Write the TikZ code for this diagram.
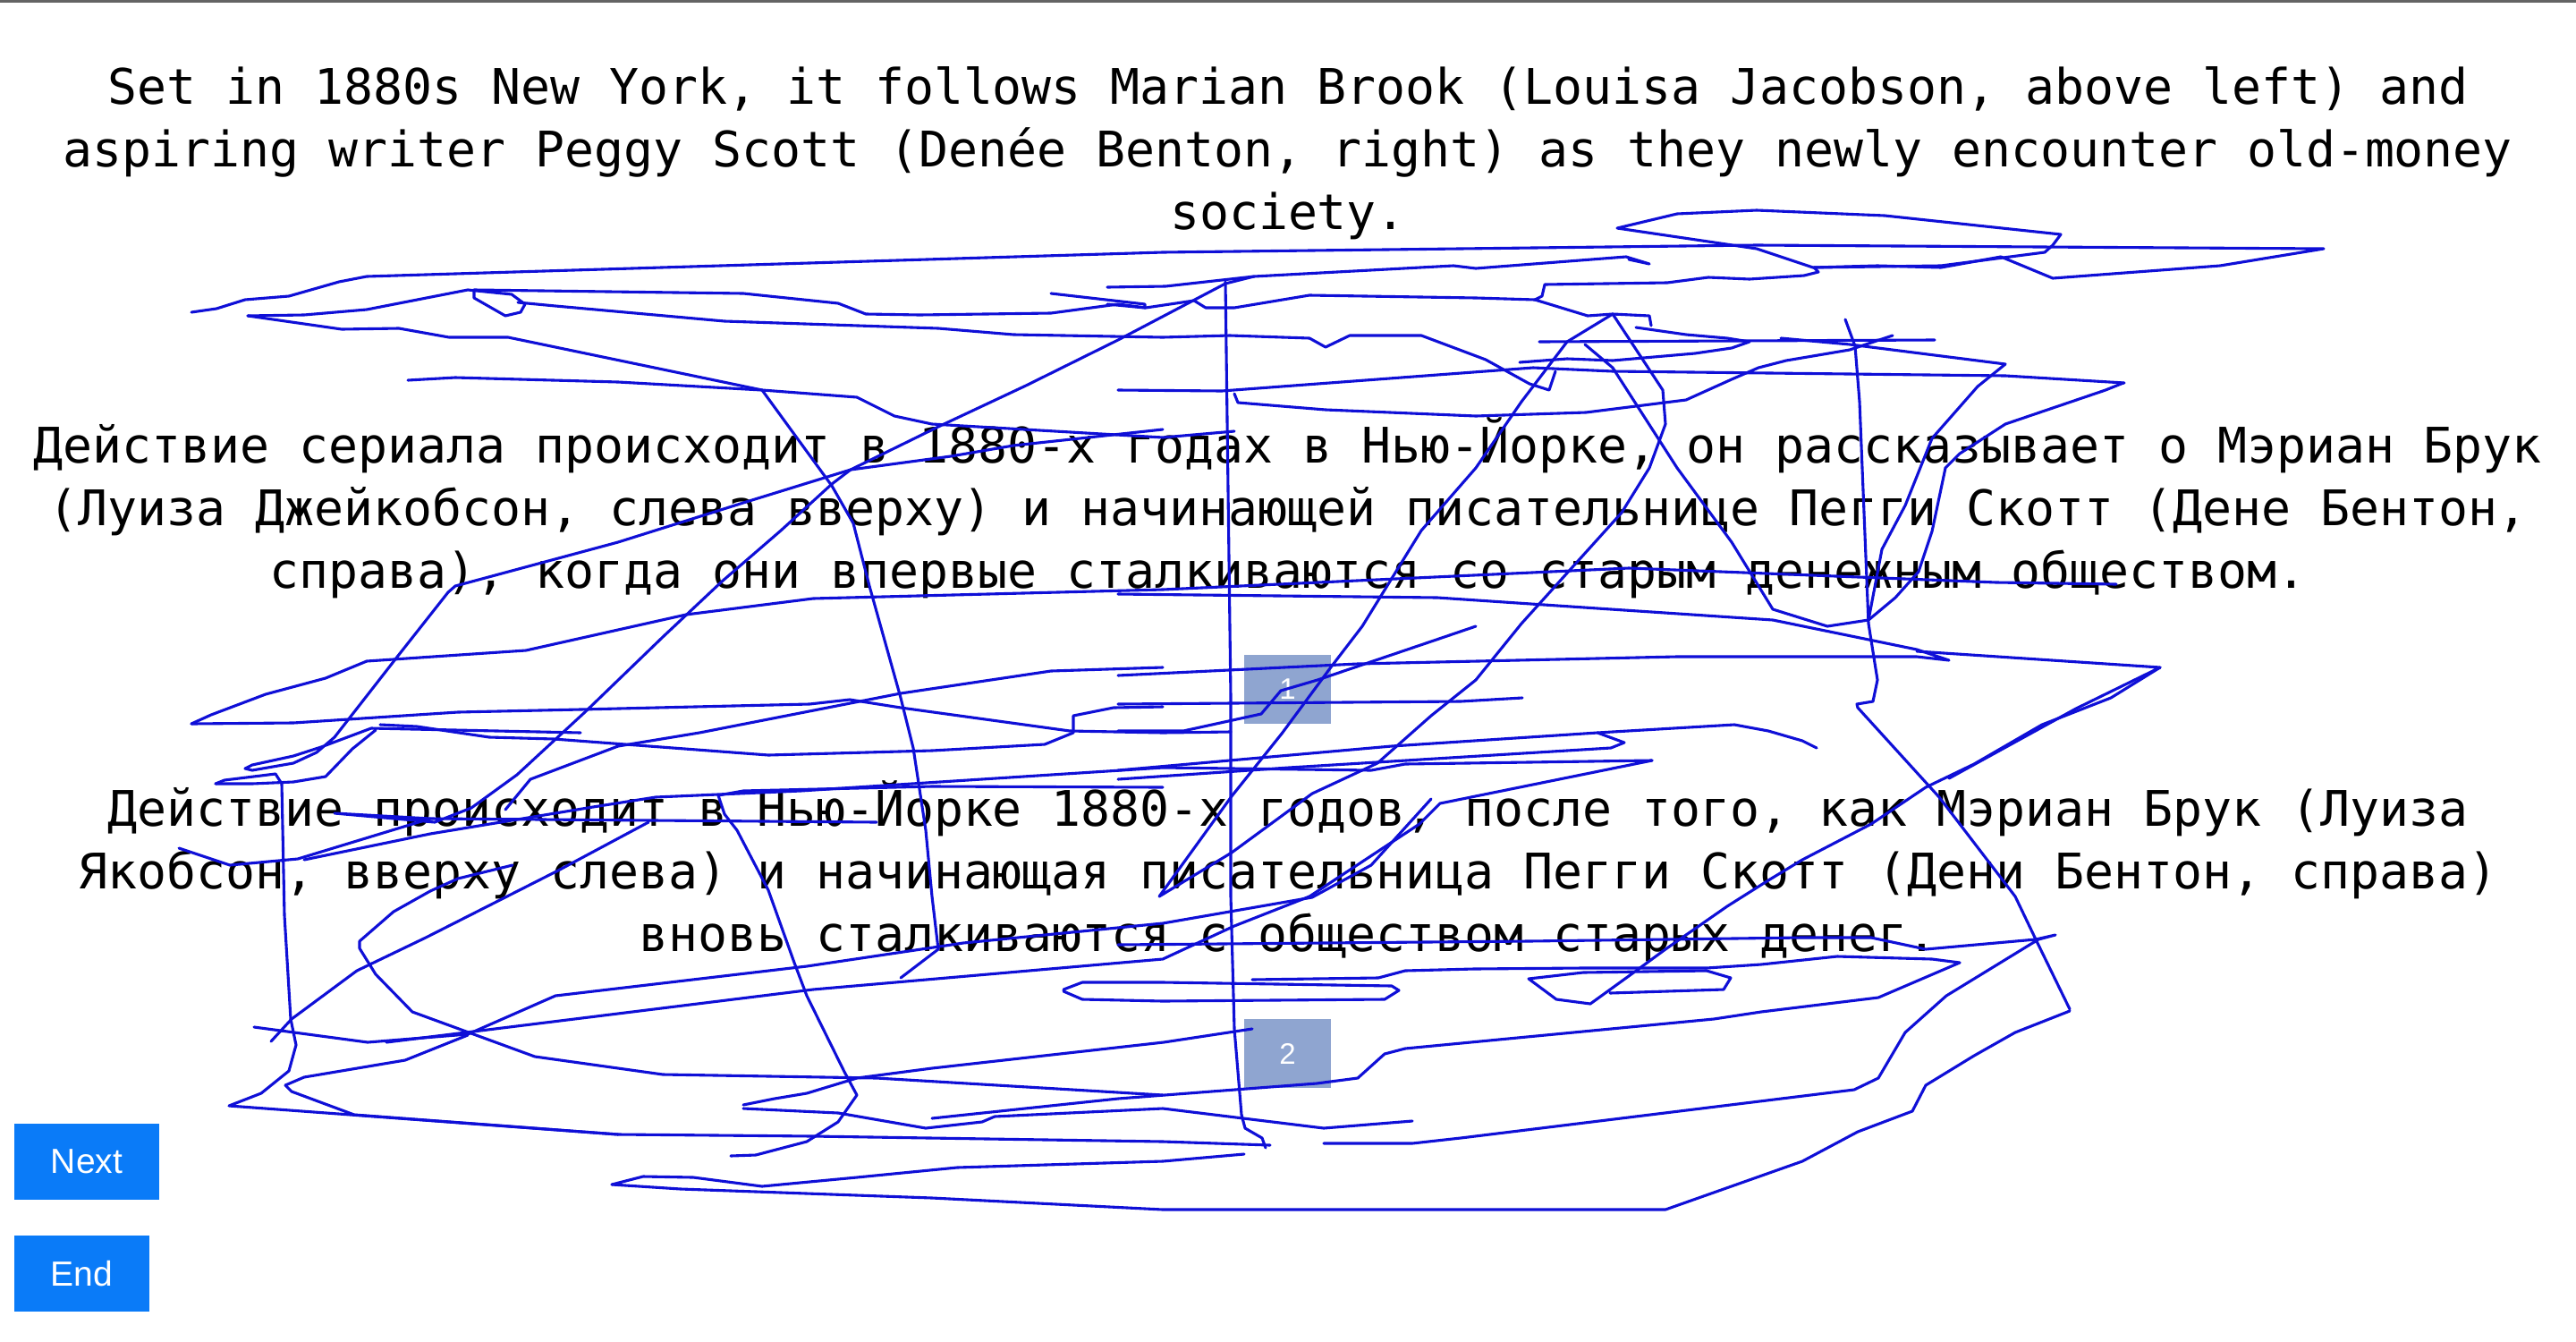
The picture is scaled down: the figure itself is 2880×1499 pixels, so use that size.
\documentclass[tikz,border=0pt]{standalone}
\usepackage{fontspec}
\newfontfamily\monof{DejaVu Sans Mono}
\newfontfamily\arialf{Liberation Sans}
\definecolor{scribblue}{RGB}{15,15,215}
\definecolor{pagebox}{RGB}{143,165,208}
\definecolor{btnblue}{RGB}{10,123,248}
\definecolor{topgray}{RGB}{100,100,100}
\begin{document}
\begin{tikzpicture}[x=1pt,y=-1pt,
  txt/.style={anchor=base,inner sep=0pt,font=\monof\fontsize{54.8}{70}\selectfont},
  pagebtn/.style={fill=pagebox,draw=none,minimum width=97pt,minimum height=77pt,inner sep=0pt,text=white,font=\arialf\fontsize{33}{36}\selectfont},
  navbtn/.style={fill=btnblue,draw=none,inner sep=0pt,text=white,font=\arialf\fontsize{39}{44}\selectfont},
  scrib/.style={draw=scribblue,line width=3.1pt,line join=round,line cap=round}]
\useasboundingbox (0,0) rectangle (2880,1499);
\fill[white] (0,0) rectangle (2880,1499);
\fill[topgray] (0,0) rectangle (2880,3);
% English
\node[txt] (e1) at (1440,116) {Set in 1880s New York, it follows Marian Brook (Louisa Jacobson, above left) and};
\node[txt] (e2) at (1440,186) {aspiring writer Peggy Scott (Denée Benton, right) as they newly encounter old-money};
\node[txt] (e3) at (1440,256) {society.};
% Russian 1
\node[txt] (r1) at (1440,517) {Действие сериала происходит в 1880-х годах в Нью-Йорке, он рассказывает о Мэриан Брук};
\node[txt] (r2) at (1440,587) {(Луиза Джейкобсон, слева вверху) и начинающей писательнице Пегги Скотт (Дене Бентон,};
\node[txt] (r3) at (1440,657) {справа), когда они впервые сталкиваются со старым денежным обществом.};
% Russian 2
\node[txt] (s1) at (1440,923) {Действие происходит в Нью-Йорке 1880-х годов, после того, как Мэриан Брук (Луиза};
\node[txt] (s2) at (1440,993) {Якобсон, вверху слева) и начинающая писательница Пегги Скотт (Дени Бентон, справа)};
\node[txt] (s3) at (1440,1063) {вновь сталкиваются с обществом старых денег.};
% page boxes
\node[pagebtn] (p1) at (1439.5,770.5) {1};
\node[pagebtn] (p2) at (1439.5,1177.5) {2};
% buttons
\node[navbtn,minimum width=162pt,minimum height=85pt] (next) at (97,1298.5) {Next};
\node[navbtn,minimum width=151pt,minimum height=85pt] (end) at (91.5,1423.5) {End};
% scribble
\draw[scrib] plot coordinates {(214,349) (242,345) (274,335) (323,331) (379,315) (410,309) (1300,282) (1964,274) (2598,278) (2482,297) (2295,311) (2237,287) (2170,299) (2099,297) (2028,299) (2033,304) (2017,308) (1956,312) (1910,310) (1864,316) (1727,318) (1724,331) (1716,335) (1775,353) (1803,351)};
\draw[scrib] plot coordinates {(1808,255) (1875,239) (1964,235) (2107,241) (2304,262) (2295,274) (2286,282) (2170,297) (2027,299) (1964,278) (1808,255)};
\draw[scrib] plot coordinates {(277,353) (340,352) (410,346) (523,324) (572,329) (587,340) (582,349) (565,353) (530,333) (530,324) (831,328) (937,339) (968,351) (1028,352) (1175,350) (1250,340) (1281,344) (1335,336) (1348,344) (1380,344) (1464,330) (1650,333) (1716,335)};
\draw[scrib] plot coordinates {(1238,321) (1303,320) (1402,309) (1625,297) (1650,300) (1818,287) (1844,295) (1821,290)};
\draw[scrib] plot coordinates {(1175,328) (1210,332) (1280,340) (1280,344) (1238,340)};
\draw[scrib] plot coordinates {(579,338) (621,342) (810,359) (1049,367) (1133,374) (1300,377) (1375,375) (1464,378) (1482,388) (1509,375) (1589,375) (1661,402) (1710,429) (1732,436) (1739,415)};
\draw[scrib] plot coordinates {(277,353) (382,368) (446,367) (502,377) (568,377) (852,436) (930,543) (954,585) (972,655) (1007,780) (1021,836) (1035,928) (1042,1002) (1049,1061) (1007,1093)};
\draw[scrib] plot coordinates {(456,425) (509,422) (691,427) (852,436) (958,444) (1000,465) (1042,474) (1300,489) (1380,482)};
\draw[scrib] plot coordinates {(1402,309) (1370,317) (1250,380) (1147,431) (1049,477) (951,525) (930,541) (873,593) (807,650) (741,712) (655,795) (578,866) (527,903) (486,919) (374,909) (481,915) (731,917) (980,919)};
\draw[scrib] plot coordinates {(573,967) (512,982) (481,996) (440,1019) (402,1052) (402,1060) (420,1089) (461,1131) (598,1181) (741,1201) (980,1205) (1300,1224)};
\draw[scrib] plot coordinates {(1300,480) (1133,498) (1063,510) (951,525) (831,562) (691,606) (509,655) (501,662) (445,733) (374,824) (354,841) (328,853) (282,861) (274,859) (282,855) (328,845) (359,835) (415,814) (649,819)};
\draw[scrib] plot coordinates {(214,809) (236,799) (297,776) (364,758) (410,739) (588,727) (767,687) (909,669) (1300,659) (1821,635) (2232,651) (2366,653)};
\draw[scrib] plot coordinates {(214,809) (328,808) (512,796) (649,793) (905,787) (950,782) (1007,791) (1196,817) (1300,819) (1376,818)};
\draw[scrib] plot coordinates {(1300,746) (1175,750) (1007,775) (782,819) (691,834) (593,871) (565,905)};
\draw[scrib] plot coordinates {(1300,790) (1245,791) (1200,800) (1200,819) (1168,832) (1042,839) (859,844) (619,826) (547,824) (466,812) (425,810)};
\draw[scrib] plot coordinates {(241,876) (282,876) (328,874) (364,868) (394,837) (420,816)};
\draw[scrib] plot coordinates {(241,876) (251,872) (308,865) (315,876) (318,1023) (325,1139) (331,1168) (323,1197) (292,1222) (256,1236) (691,1268) (909,1270) (1300,1276) (1420,1280)};
\draw[scrib] plot coordinates {(200,948) (257,967) (333,960) (481,915)};
\draw[scrib] plot coordinates {(340,961) (481,932) (663,902) (733,891) (895,884) (1300,858) (1533,861) (1571,854) (1847,850)};
\draw[scrib] plot coordinates {(1300,880) (1042,879) (831,884) (803,889) (810,910) (824,928) (859,995) (888,1076) (902,1113) (944,1198) (958,1224) (937,1254) (902,1276) (845,1291) (817,1292)};
\draw[scrib] plot coordinates {(725,919) (624,973) (476,1048) (399,1085) (326,1139) (303,1164)};
\draw[scrib] plot coordinates {(284,1148) (411,1165) (523,1156) (621,1113) (902,1080) (1077,1054) (1300,1032) (1467,1003) (1533,967) (1600,893)};
\draw[scrib] plot coordinates {(432,1165) (909,1106) (1300,1072) (1380,1035) (1464,1002) (1587,921) (1610,898) (1847,850)};
\draw[scrib] plot coordinates {(319,1213) (340,1204) (453,1185) (523,1157)};
\draw[scrib] plot coordinates {(319,1213) (326,1220) (396,1246) (691,1268)};
\draw[scrib] plot coordinates {(684,1324) (719,1315) (775,1316) (852,1326) (958,1316) (1070,1305) (1300,1298) (1391,1290)};
\draw[scrib] plot coordinates {(684,1324) (761,1329) (1042,1339) (1300,1352) (1862,1352) (2015,1298) (2077,1265) (2138,1242) (2153,1213) (2207,1180) (2253,1154) (2314,1130)};
\draw[scrib] plot coordinates {(831,1235) (866,1228) (902,1222) (958,1205) (1042,1194) (1301,1165) (1400,1150)};
\draw[scrib] plot coordinates {(831,1239) (937,1244) (1035,1261) (1098,1254) (1112,1248) (1300,1239) (1480,1261) (1579,1253)};
\draw[scrib] plot coordinates {(1189,1106) (1210,1098) (1300,1098) (1556,1102) (1564,1107) (1548,1117) (1300,1119) (1210,1117) (1189,1108)};
\draw[scrib] plot coordinates {(1370,315) (1376,780) (1376,1002) (1380,1150) (1388,1246) (1392,1261) (1411,1272) (1415,1283)};
\draw[scrib] plot coordinates {(2063,357) (2074,387) (2079,449) (2084,573) (2089,697) (2099,760) (2094,784) (2076,787) (2077,791) (2168,891) (2253,1002) (2276,1050) (2314,1128)};
\draw[scrib] plot coordinates {(2415,746) (2360,780) (2283,810) (2207,854) (2153,880) (2092,921) (2015,961) (1977,984) (1931,1013) (1862,1061) (1832,1083) (1778,1122) (1740,1117) (1709,1094) (1770,1087) (1908,1085) (1935,1093) (1927,1106) (1800,1110)};
\draw[scrib] plot coordinates {(1250,1056) (1709,1052) (2015,1048) (2092,1048) (2153,1061) (2276,1050) (2298,1045) (2279,1050) (2176,1113) (2130,1154) (2100,1205) (2073,1218) (1633,1272) (1579,1278) (1480,1278)};
\draw[scrib] plot coordinates {(2191,1076) (2100,1115) (1969,1131) (1916,1139) (1571,1172) (1548,1178) (1518,1205) (1472,1211) (1250,1228) (1042,1250)};
\draw[scrib] plot coordinates {(2191,1076) (2160,1072) (2054,1069) (1969,1078) (1908,1082) (1770,1082) (1648,1083) (1571,1085) (1541,1093) (1400,1095)};
\draw[scrib] plot coordinates {(1250,861) (1556,834) (1786,819) (1816,830) (1801,836) (1441,858) (1250,871)};
\draw[scrib] plot coordinates {(1786,819) (1939,810) (1977,817) (2015,828) (2031,836)};
% A shape
\draw[scrib] plot coordinates {(1803,351) (1752,382) (1701,449) (1650,523) (1589,593) (1523,700) (1487,747) (1433,820) (1377,890) (1296,1002) (1377,953) (1467,887) (1540,853) (1600,800) (1650,760) (1701,697) (1813,573) (1844,523) (1862,474) (1859,436) (1803,351) (1844,353) (1846,364)};
\draw[scrib] plot coordinates {(1772,385) (1803,411) (1875,523) (1936,606) (1982,681) (2043,700) (2089,693) (2119,668) (2145,639) (2160,594) (2175,523) (2191,507) (2242,474) (2354,436) (2374,428)};
\draw[scrib] plot coordinates {(2089,693) (2104,614) (2130,565) (2160,490) (2211,432) (2242,407) (2068,385) (1991,378)};
\draw[scrib] plot coordinates {(1721,382) (2163,380)};
\draw[scrib] plot coordinates {(1699,405) (1752,401) (1803,403) (1895,395) (1936,389) (1956,382) (1931,378) (1885,374) (1829,366)};
\draw[scrib] plot coordinates {(1250,436) (1366,437) (1714,411) (1803,415) (2242,420) (2375,428)};
\draw[scrib] plot coordinates {(1380,440) (1384,450) (1482,458) (1650,465) (1773,461) (1885,447) (1936,424) (1966,411) (1997,403) (2068,391) (2116,375)};
\draw[scrib] plot coordinates {(1250,664) (1607,668) (1786,680) (1982,693) (2143,726) (2179,738) (2143,734) (1875,734) (1518,742) (1250,755)};
\draw[scrib] plot coordinates {(2143,728) (2415,746) (2321,792) (2179,870)};
\draw[scrib] plot coordinates {(1250,817) (1323,817) (1410,798) (1432,772) (1473,760) (1600,717) (1650,700)};
\draw[scrib] plot coordinates {(1250,787) (1633,784) (1702,780)};
\end{tikzpicture}
\end{document}
